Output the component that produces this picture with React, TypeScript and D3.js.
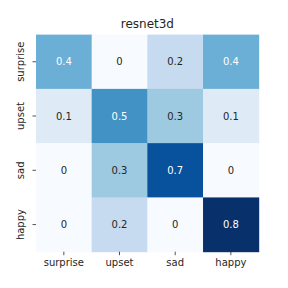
import React, { useEffect, useRef } from 'react';
import * as d3 from 'd3';

const rowLabels = ['surprise', 'upset', 'sad', 'happy'];
const colLabels = ['surprise', 'upset', 'sad', 'happy'];
const matrix = [
  [0.4, 0, 0.2, 0.4],
  [0.1, 0.5, 0.3, 0.1],
  [0, 0.3, 0.7, 0],
  [0, 0.2, 0, 0.8],
];
const title = 'resnet3d';

// matplotlib "Blues" control colours
const bluesStops = ['#f7fbff', '#deebf7', '#c6dbef', '#9ecae1', '#6baed6', '#4292c6', '#2171b5', '#08519c', '#08306b'];

const width = 288;
const height = 288;

const luminance = (c: string) => {
  const rgb = d3.rgb(c);
  const f = (v: number) => {
    v = v / 255;
    return v <= 0.03928 ? v / 12.92 : Math.pow((v + 0.055) / 1.055, 2.4);
  };
  return 0.2126 * f(rgb.r) + 0.7152 * f(rgb.g) + 0.0722 * f(rgb.b);
};

const App: React.FC = () => {
  const svgRef = useRef<SVGSVGElement>(null);

  useEffect(() => {
    if (!svgRef.current) return;
    const svg = d3.select(svgRef.current);
    svg.selectAll('*').remove();

    const margin = { top: 34.6, left: 36, right: 288 - 258.7, bottom: 288 - 251.7 };
    const innerW = width - margin.left - margin.right;
    const innerH = height - margin.top - margin.bottom;
    const font = 'DejaVu Sans, sans-serif';

    const g = svg.append('g').attr('transform', `translate(${margin.left},${margin.top})`);

    const x = d3.scaleBand().domain(colLabels).range([0, innerW]);
    const y = d3.scaleBand().domain(rowLabels).range([0, innerH]);

    const vmax = d3.max(matrix.flat()) || 1;
    const interp = d3.piecewise(d3.interpolateRgb, bluesStops);
    const color = d3.scaleSequential(interp).domain([0, vmax]);

    const cells = matrix.flatMap((row, i) => row.map((v, j) => ({ r: rowLabels[i], c: colLabels[j], v })));

    g.selectAll('.cell')
      .data(cells)
      .enter()
      .append('rect')
      .attr('x', d => x(d.c) || 0)
      .attr('y', d => y(d.r) || 0)
      .attr('width', x.bandwidth() + 0.5)
      .attr('height', y.bandwidth() + 0.5)
      .attr('fill', d => color(d.v));

    g.selectAll('.annot')
      .data(cells)
      .enter()
      .append('text')
      .attr('x', d => (x(d.c) || 0) + x.bandwidth() / 2)
      .attr('y', d => (y(d.r) || 0) + y.bandwidth() / 2)
      .attr('dy', '0.35em')
      .attr('text-anchor', 'middle')
      .attr('font-family', font)
      .attr('font-size', '10px')
      .attr('fill', d => (luminance(color(d.v)) > 0.408 ? '#262626' : '#ffffff'))
      .text(d => String(d.v));

    // x axis
    const xAxis = g.append('g')
      .attr('transform', `translate(0,${innerH})`)
      .call(d3.axisBottom(x).tickSize(3.5).tickPadding(3.5));
    xAxis.select('.domain').remove();
    xAxis.selectAll('.tick line').attr('stroke', '#262626').attr('stroke-width', 0.8);
    xAxis.selectAll('.tick text')
      .attr('font-family', font)
      .attr('font-size', '10px')
      .attr('fill', '#262626');

    // y axis
    const yAxis = g.append('g').call(d3.axisLeft(y).tickSize(3.5).tickPadding(3.5));
    yAxis.select('.domain').remove();
    yAxis.selectAll('.tick line').attr('stroke', '#262626').attr('stroke-width', 0.8);
    yAxis.selectAll('.tick text')
      .attr('font-family', font)
      .attr('font-size', '10px')
      .attr('fill', '#262626')
      .attr('text-anchor', 'middle')
      .attr('x', null)
      .attr('dy', null)
      .attr('transform', 'translate(-12,0) rotate(-90)');

    svg.append('text')
      .attr('x', margin.left + innerW / 2)
      .attr('y', 28)
      .attr('text-anchor', 'middle')
      .attr('font-family', font)
      .attr('font-size', '12px')
      .attr('fill', '#262626')
      .text(title);
  }, []);

  return (
    <svg
      ref={svgRef}
      width={width}
      height={height}
      style={{ position: 'absolute', left: 0, top: 0, background: '#ffffff' }}
    />
  );
};

export default App;
